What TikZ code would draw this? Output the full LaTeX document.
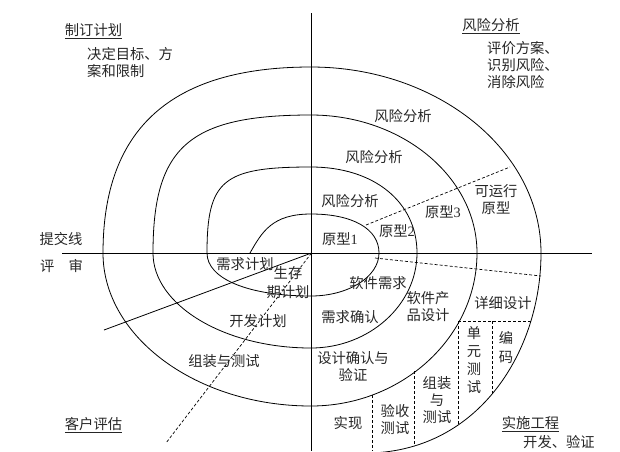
\documentclass[tikz,border=0pt]{standalone}
\usepackage{fontspec}
\setmainfont{Liberation Serif}
\newfontfamily\cjk{Noto Sans CJK SC}
\tikzset{
  lbl/.style={font=\cjk\fontsize{14.3}{17}\selectfont, inner sep=0pt, align=center, text=black!85},
  lblleft/.style={lbl, align=left, anchor=west},
  spiral/.style={line width=0.8pt, black},
  axis/.style={line width=0.8pt, black},
  dsh/.style={line width=0.7pt, black, dash pattern=on 3pt off 2pt},
}
\begin{document}
\begin{tikzpicture}[x=1pt,y=-1pt]
\useasboundingbox (0,0) rectangle (620,451);
\clip (0,0) rectangle (620,451);

% axes
\coordinate (O) at (311.5,253);
\coordinate (axL) at (62,253);
\coordinate (axR) at (592,253);
\coordinate (axT) at (311.5,13);
\coordinate (axB) at (311.5,451);
\draw[axis] (axL) -- (axR);
\draw[axis] (axT) -- (axB);

% spiral
\draw[spiral] (250,253) .. controls (262,232) and (272,214) .. (311,214)
  .. controls (353,214) and (379,229) .. (379,253)
  .. controls (379,277) and (348,296) .. (311,296)
  .. controls (249,296) and (207,279) .. (207,253)
  .. controls (207,180) and (223,167) .. (311,167)
  .. controls (374,167) and (417,202) .. (417,253)
  .. controls (417,305) and (369,348) .. (311,348)
  .. controls (224,348) and (153,305) .. (153,253)
  .. controls (153,147) and (189,115) .. (311,115)
  .. controls (402,115) and (477,177) .. (477,253)
  .. controls (477,337) and (402,406) .. (311,406)
  .. controls (197,406) and (103,337) .. (103,253)
  .. controls (103,128) and (172,67) .. (311,67)
  .. controls (438,67) and (541,151) .. (541,253)
  .. controls (541,350) and (480,450) .. (370,453);

% straight connectors from the centre
\coordinate (sl) at (104,330);
\coordinate (dl) at (166,443);
\draw[axis] (O) -- (sl);
\draw[dsh] (O) -- (dl);

% dashed dividers
\coordinate (d1a) at (366,225); \coordinate (d1b) at (510,167);
\draw[dsh] (d1a) -- (d1b);
\coordinate (d2a) at (375,258); \coordinate (d2b) at (541,276);
\draw[dsh] (d2a) -- (d2b);
\coordinate (d3a) at (458,321); \coordinate (d3b) at (531,321);
\draw[dsh] (d3a) -- (d3b);
\coordinate (d4b) at (458,425);
\draw[dsh] (d3a) -- (d4b);
\coordinate (d5a) at (492,321); \coordinate (d5b) at (492,394);
\draw[dsh] (d5a) -- (d5b);
\coordinate (d6a) at (414,371); \coordinate (d6b) at (414,446);
\draw[dsh] (d6a) -- (d6b);
\coordinate (d7a) at (372,395); \coordinate (d7b) at (372,451);
\draw[dsh] (d7a) -- (d7b);

% quadrant headings
\node[lbl] (plan) at (93.5,31) {\underline{制订计划}};
\node[lblleft] (planD) at (87,62.5) {决定目标、方\\案和限制};
\node[lbl] (risk) at (491,26) {\underline{风险分析}};
\node[lblleft] (riskD) at (487,65) {评价方案、\\识别风险、\\消除风险};
\node[lbl] (submit) at (61,239) {提交线};
\node[lbl] (review) at (61.5,266) {评　审};
\node[lbl] (cust) at (93.5,425) {\underline{客户评估}};
\node[lbl] (impl) at (530.5,424) {\underline{实施工程}};
\node[lblleft] (devv) at (523,442) {开发、验证};

% inside labels
\node[lbl] (r3) at (403,116) {风险分析};
\node[lbl] (r2) at (374,157) {风险分析};
\node[lbl] (r1) at (350,201) {风险分析};
\node[lbl] (p1) at (340,239) {原型{\rmfamily 1}};
\node[lbl] (p2) at (397,231) {原型{\rmfamily 2}};
\node[lbl] (p3) at (443,212) {原型{\rmfamily 3}};
\node[lbl] (op) at (496,200) {可运行\\原型};
\node[lbl] (sreq) at (378,283) {软件需求};
\node[lbl] (spd) at (428,307) {软件产\\品设计};
\node[lbl] (rc) at (350,317) {需求确认};
\node[lbl] (dd) at (503,303) {详细设计};
\node[lbl] (ut) at (474,360) {单\\[1pt]元\\[1pt]测\\[1pt]试};
\node[lbl] (cd) at (506,347.5) {编\\[2pt]码};
\node[lbl] (dv) at (353,366) {设计确认与\\验证};
\node[lbl] (at) at (437,400) {组装\\与\\测试};
\node[lbl] (acc) at (395,419.5) {验收\\测试};
\node[lbl] (real) at (348,423) {实现};
\node[lbl] (rp) at (245,264) {需求计划};
\node[lbl] (lp) at (288,282.5) {生存\\[2pt]期计划};
\node[lbl] (dp) at (258,321) {开发计划};
\node[lbl] (it) at (224,361) {组装与测试};
\end{tikzpicture}
\end{document}
